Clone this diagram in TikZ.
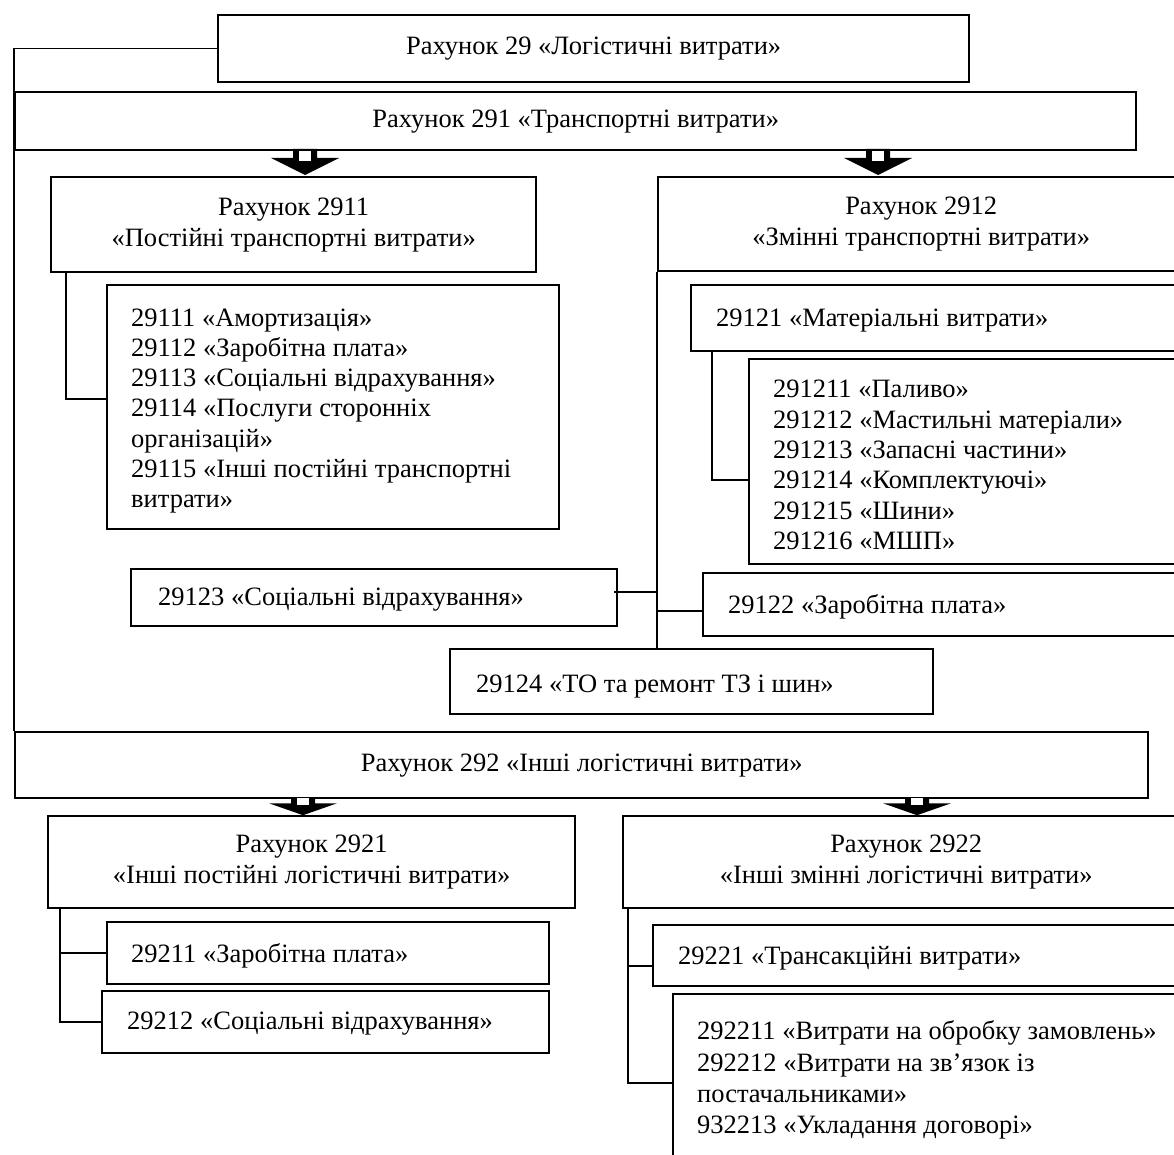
\documentclass[tikz,border=0pt]{standalone}
\usepackage{fontspec}
\setmainfont{Liberation Serif}
\usetikzlibrary{calc}
\begin{document}
\begin{tikzpicture}[x=1pt,y=-1pt,
  box/.style={draw, line width=2.4pt, inner sep=0pt, anchor=north west, align=center,
    font=\fontsize{26.5}{31}\selectfont},
  conn/.style={line width=1.6pt},
  txt/.style={inner sep=0pt, anchor=west, align=left, font=\fontsize{26.5}{30.3}\selectfont},
  darr/.pic={\fill (-12,0) -- (12,0) -- (12,9) -- (34,9) -- (0,26) -- (-34,9) -- (-12,9) -- cycle;
             \fill[white] (-6,2) rectangle (6,12);}]
\useasboundingbox (0,0) rectangle (1174,1155);

% boxes
\node[box, minimum width=751pt, minimum height=67pt] (b29) at (217,14) {Рахунок 29 «Логістичні витрати»};
\node[box, minimum width=1121pt, minimum height=58pt] (b291) at (14,91) {Рахунок 291 «Транспортні витрати»};
\node[box, minimum width=485pt, minimum height=95pt] (b2911) at (50,176) {Рахунок 2911\\«Постійні транспортні витрати»};
\node[box, minimum width=452pt, minimum height=244pt] (l2911) at (106,284) {};
\node[box, minimum width=526pt, minimum height=94pt] (b2912) at (657,176) {Рахунок 2912\\«Змінні транспортні витрати»};
\node[box, minimum width=495pt, minimum height=66pt] (b29121) at (690,284) {};
\node[box, minimum width=437pt, minimum height=205pt] (l29121) at (748,358) {};
\node[box, minimum width=486pt, minimum height=57pt] (b29123) at (130,568) {};
\node[box, minimum width=483pt, minimum height=63pt] (b29122) at (702,572) {};
\node[box, minimum width=483pt, minimum height=65pt] (b29124) at (449,648) {};
\node[box, minimum width=1133pt, minimum height=66pt] (b292) at (14,731) {Рахунок 292 «Інші логістичні витрати»};
\node[box, minimum width=527pt, minimum height=92pt] (b2921) at (47,815) {Рахунок 2921\\«Інші постійні логістичні витрати»};
\node[box, minimum width=442pt, minimum height=62pt] (b29211) at (106,921) {};
\node[box, minimum width=447pt, minimum height=62pt] (b29212) at (101,990) {};
\node[box, minimum width=566pt, minimum height=92pt] (b2922) at (622,815) {Рахунок 2922\\«Інші змінні логістичні витрати»};
\node[box, minimum width=533pt, minimum height=61pt] (b29221) at (652,924) {};
\node[box, minimum width=513pt, minimum height=190pt] (l2922) at (672,993) {};

% texts
\node[txt] (t2911) at (131,411) {29111 «Амортизація»\\29112 «Заробітна плата»\\29113 «Соціальні відрахування»\\29114 «Послуги сторонніх\\організацій»\\29115 «Інші постійні транспортні\\витрати»};
\node[txt] (t29121) at (716,321) {29121 «Матеріальні витрати»};
\node[txt] (tl29121) at (773,465) {291211 «Паливо»\\291212 «Мастильні матеріали»\\291213 «Запасні частини»\\291214 «Комплектуючі»\\291215 «Шини»\\291216 «МШП»};
\node[txt] (t29123) at (158,600) {29123 «Соціальні відрахування»};
\node[txt] (t29122) at (728,607) {29122 «Заробітна плата»};
\node[txt] (t29124) at (476,687) {29124 «ТО та ремонт ТЗ і шин»};
\node[txt] (t29211) at (131,956) {29211 «Заробітна плата»};
\node[txt] (t29212) at (127,1024) {29212 «Соціальні відрахування»};
\node[txt] (t29221) at (678,958) {29221 «Трансакційні витрати»};
\node[txt, font=\fontsize{26.5}{31.3}\selectfont] (tl2922) at (697,1080) {292211 «Витрати на обробку замовлень»\\292212 «Витрати на зв’язок із\\постачальниками»\\932213 «Укладання договорі»};

% connector junction points
\coordinate (j2911) at ([xshift=16pt]b2911.south west);
\coordinate (j29121) at ([xshift=22pt]b29121.south west);
\coordinate (j2921) at ([xshift=13pt]b2921.south west);
\coordinate (j2922) at ([xshift=6pt]b2922.south west);

% connectors
\draw[conn] (b29.west) -| (b292.north west);
\draw[conn] (j2911) |- ([yshift=8pt]l2911.west);
\draw[conn] (b2912.south west) -- (b2912.south west |- b29124.north);
\draw[conn] (j29121) |- ([yshift=-18pt]l29121.west);
\draw[conn] ([xshift=-4pt,yshift=6pt]b29123.east) -- ([yshift=6pt]b29123.east -| b2912.south west);
\draw[conn] ([yshift=-6pt]b29122.west) -- ([yshift=-6pt]b29122.west -| b2912.south west);
\draw[conn] (j2921) |- (b29212.west);
\draw[conn] (b29211.west) -- (b29211.west -| j2921);
\draw[conn] (j2922) |- ([yshift=6pt]l2922.west);
\draw[conn] ([yshift=-10pt]b29221.west) -- ([yshift=-10pt]b29221.west -| j2922);

% block arrows
\pic at (305,149) {darr};
\pic at (878,149) {darr};
\pic[yscale=0.7] at (303,797) {darr};
\pic[yscale=0.7] at (917,797) {darr};
\end{tikzpicture}
\end{document}
